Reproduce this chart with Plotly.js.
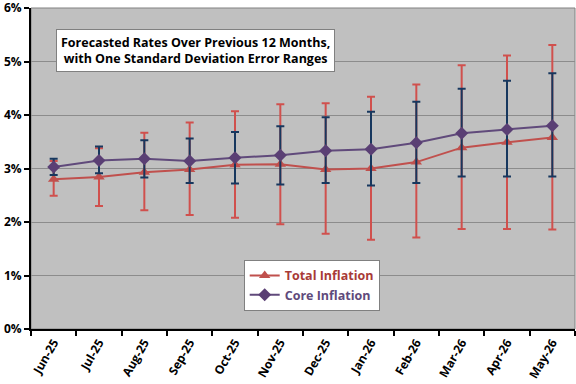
<!DOCTYPE html>
<html>
<head>
<meta charset="utf-8">
<script src="https://cdn.plot.ly/plotly-3.0.1.min.js"></script>
<style>body{margin:0;padding:0;background:#fff}#chart{width:576px;height:384px}</style>
</head>
<body>
<div id="chart"></div>
<script>
const months = ["Jun-25","Jul-25","Aug-25","Sep-25","Oct-25","Nov-25","Dec-25","Jan-26","Feb-26","Mar-26","Apr-26","May-26"];
const totalValue = [2.80,2.84,2.93,2.98,3.07,3.08,2.98,3.00,3.12,3.39,3.49,3.58];
const totalUpper = [3.14,3.38,3.67,3.86,4.07,4.20,4.22,4.34,4.57,4.93,5.11,5.31];
const totalLower = [2.49,2.30,2.22,2.13,2.08,1.96,1.78,1.67,1.71,1.87,1.87,1.86];
const coreValue = [3.03,3.15,3.18,3.14,3.20,3.25,3.33,3.36,3.48,3.66,3.73,3.80];
const coreUpper = [3.18,3.41,3.53,3.56,3.68,3.79,3.96,4.06,4.25,4.49,4.64,4.78];
const coreLower = [2.88,2.91,2.83,2.73,2.72,2.70,2.73,2.68,2.73,2.85,2.85,2.85];
const yTicks = [0,1,2,3,4,5,6];
const yTickText = ["0%","1%","2%","3%","4%","5%","6%"];

const plus = (v, u) => u.map((x, i) => x - v[i]);
const minus = (v, l) => v.map((x, i) => x - l[i]);

const fontFam = '"Open Sans", "Noto Sans", sans-serif';

const traces = [
  {
    type: 'scatter', mode: 'lines+markers',
    name: '<span style="color:#A83A37">Total Inflation</span>',
    x: months, y: totalValue,
    line: {color: '#C0504D', width: 2},
    marker: {symbol: 'triangle-up', size: 10, color: '#C0504D'},
    error_y: {type: 'data', symmetric: false, array: plus(totalValue, totalUpper),
      arrayminus: minus(totalValue, totalLower), color: '#D0504D', thickness: 2, width: 4}
  },
  {
    type: 'scatter', mode: 'lines+markers',
    name: '<span style="color:#604A7B">Core Inflation</span>',
    x: months, y: coreValue,
    line: {color: '#604A7B', width: 2},
    marker: {symbol: 'diamond', size: 10, color: '#5A3F74'},
    error_y: {type: 'data', symmetric: false, array: plus(coreValue, coreUpper),
      arrayminus: minus(coreValue, coreLower), color: '#17375E', thickness: 2, width: 4}
  }
];

const layout = {
  width: 576, height: 384,
  margin: {l: 31, r: 1, t: 8, b: 55},
  paper_bgcolor: '#ffffff',
  plot_bgcolor: '#C0C0C0',
  font: {family: fontFam, size: 12, color: '#000'},
  showlegend: true,
  legend: {
    x: 0.391, y: 0.215, xanchor: 'left', yanchor: 'top',
    bgcolor: '#ffffff', bordercolor: '#808080', borderwidth: 1,
    font: {family: fontFam, size: 12.5, weight: 'bold'},
    tracegroupgap: 0, itemwidth: 30
  },
  xaxis: {
    type: 'category', range: [-0.5, 11.5],
    tickson: 'boundaries', ticks: 'outside', ticklen: 5, tickwidth: 2, tickcolor: '#000',
    showline: true, linecolor: '#000', linewidth: 2, showgrid: false,
    tickangle: -60, tickfont: {family: fontFam, size: 12, weight: 'bold', color: '#000'},
    fixedrange: true
  },
  yaxis: {
    range: [0, 6], tickmode: 'array', tickvals: yTicks, ticktext: yTickText,
    ticklabeloverflow: 'allow',
    showline: true, linecolor: '#000', linewidth: 2,
    ticks: 'outside', ticklen: 5, tickwidth: 2, tickcolor: '#000',
    showgrid: true, gridcolor: '#8C8C8C', gridwidth: 1, zeroline: false,
    tickfont: {family: fontFam, size: 12, weight: 'bold', color: '#000'},
    fixedrange: true
  },
  shapes: [
    {type: 'rect', xref: 'paper', yref: 'paper', x0: 0, x1: 1, y0: 0, y1: 1,
     line: {color: '#808080', width: 1}, layer: 'below'}
  ],
  annotations: [
    {xref: 'paper', yref: 'paper', x: 0.302, y: 0.935, xanchor: 'center', yanchor: 'top',
     text: 'Forecasted Rates Over Previous 12 Months,<br>with One Standard Deviation Error Ranges',
     showarrow: false, align: 'center',
     font: {family: fontFam, size: 12.5, weight: 'bold', color: '#000'},
     bgcolor: '#ffffff', bordercolor: '#808080', borderwidth: 1, borderpad: 4}
  ]
};

Plotly.newPlot('chart', traces, layout, {displayModeBar: false, staticPlot: true});
</script>
</body>
</html>
